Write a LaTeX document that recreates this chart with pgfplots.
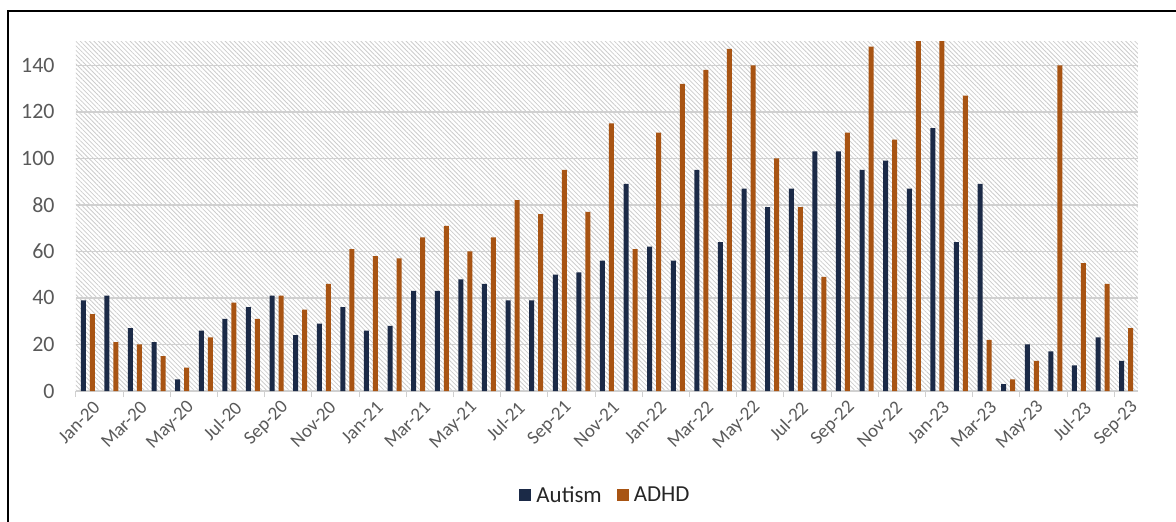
\documentclass[border=0pt]{standalone}
\usepackage{pgfplots}
\pgfplotsset{compat=1.18}
\usepackage{pgfplotstable}
\usepackage{fontspec}
\setmainfont{Carlito}
\usetikzlibrary{patterns.meta}
\definecolor{autism}{HTML}{1B2A47}
\definecolor{adhd}{HTML}{A85413}
\definecolor{lbl}{HTML}{595959}
\definecolor{grid}{HTML}{D0D0D0}
\pgfplotstableread{
x autism adhd
0 39 33
1 41 21
2 27 20
3 21 15
4 5 10
5 26 23
6 31 38
7 36 31
8 41 41
9 24 35
10 29 46
11 36 61
12 26 58
13 28 57
14 43 66
15 43 71
16 48 60
17 46 66
18 39 82
19 39 76
20 50 95
21 51 77
22 56 115
23 89 61
24 62 111
25 56 132
26 95 138
27 64 147
28 87 140
29 79 100
30 87 79
31 103 49
32 103 111
33 95 148
34 99 108
35 87 160
36 113 160
37 64 127
38 89 22
39 3 5
40 20 13
41 17 140
42 11 55
43 23 46
44 13 27
}\data
\begin{document}
\begin{tikzpicture}
\path[use as bounding box] (-76bp,-131bp) rectangle (1100bp,391bp);
\begin{axis}[
  scale only axis,
  width=1062bp, height=349bp,
  at={(0,0)}, anchor=south west,
  xmin=-0.5, xmax=44.5,
  ymin=0, ymax=150,
  ybar=4bp, bar width=5bp,
  axis x line*=bottom,
  axis y line*=left,
  x axis line style={draw=grid, line width=1.2bp, -},
  y axis line style={draw=none},
  axis background/.style={pattern={Lines[angle=-45,distance=3.2bp,line width=0.8bp]}, pattern color=black!20},
  ytick={0,20,...,140},
  ymajorgrids,
  major grid style={draw=grid, line width=1.5bp},
  xtick={0,2,...,44},
  xticklabels={Jan-20,Mar-20,May-20,Jul-20,Sep-20,Nov-20,Jan-21,Mar-21,May-21,Jul-21,Sep-21,Nov-21,Jan-22,Mar-22,May-22,Jul-22,Sep-22,Nov-22,Jan-23,Mar-23,May-23,Jul-23,Sep-23},
  minor xtick={-0.5,1.5,...,44},
  major tick length=0pt,
  minor tick length=6bp,
  tick style={draw=grid, line width=1bp},
  xtick pos=bottom,
  ytick pos=left,
  tick align=outside,
  x tick label style={rotate=45, anchor=east, font=\fontsize{19}{22}\selectfont, text=lbl, xshift=0bp, yshift=-16bp},
  yticklabel={\fontsize{22}{26}\selectfont\textcolor{lbl}{\pgfmathprintnumber{\tick}}},
  every y tick label/.append style={anchor=east, xshift=-18bp},
  /pgf/number format/assume math mode=true,
  legend style={at={(0.5,-0.298)}, anchor=center, draw=none, fill=none, font=\fontsize{23}{27}\selectfont, text=black!85, legend columns=2, /tikz/every even column/.append style={column sep=10bp}, nodes={inner xsep=5bp}},
]
\addplot[fill=autism, draw=none, legend image code/.code={\fill[autism] (0bp,-6bp) rectangle (12bp,6bp);}] table[x=x, y=autism] {\data};
\addlegendentry{Autism}
\addplot[fill=adhd, draw=none, legend image code/.code={\fill[adhd] (0bp,-6bp) rectangle (12bp,6bp);}] table[x=x, y=adhd] {\data};
\addlegendentry{ADHD}
\end{axis}
\draw[line width=2.5bp, black] (-68bp,-140bp) -- (-68bp,380bp) -- (1110bp,380bp);
\end{tikzpicture}
\end{document}
